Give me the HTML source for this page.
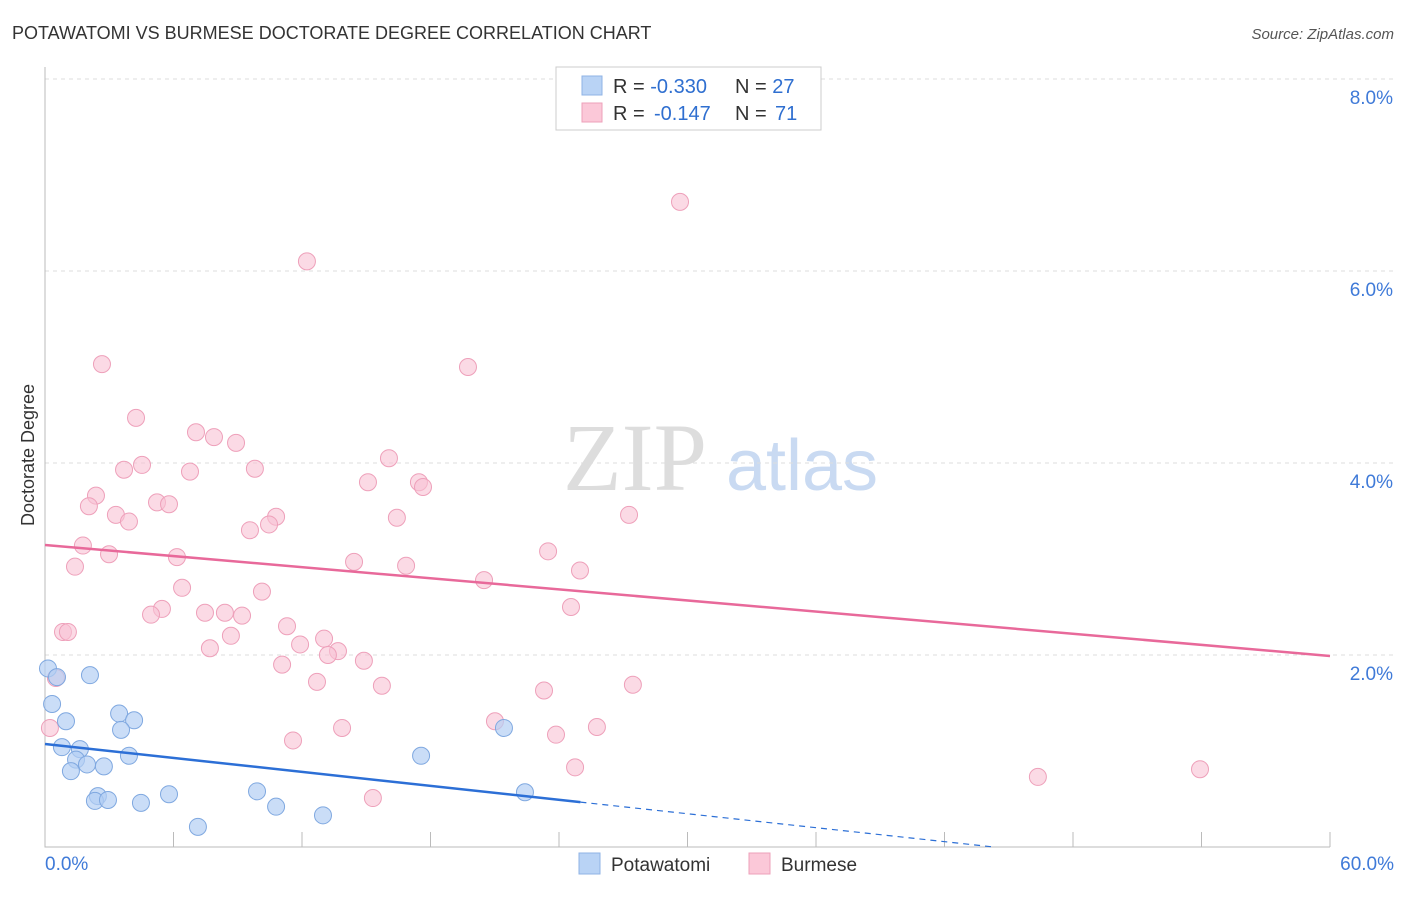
<!DOCTYPE html>
<html><head><meta charset="utf-8"><style>
body{margin:0;background:#fff;font-family:"Liberation Sans",sans-serif}
</style></head><body>
<svg id="chart" width="1406" height="892" xmlns="http://www.w3.org/2000/svg" font-family="Liberation Sans, sans-serif">
<text x="12" y="39" font-size="18" fill="#333">POTAWATOMI VS BURMESE DOCTORATE DEGREE CORRELATION CHART</text>
<text x="1394" y="39" font-size="15" fill="#555" font-style="italic" text-anchor="end">Source: ZipAtlas.com</text>
<g>
<text x="635" y="490" font-size="96" font-family="Liberation Serif, serif" fill="#ddd" text-anchor="middle">ZIP</text>
<text x="802" y="490" font-size="72" fill="#c9daf2" text-anchor="middle">atlas</text>
</g>
<g id="grid"></g><g id="axes"></g><g id="marks"></g>
<text transform="translate(34,455) rotate(-90)" font-size="18" fill="#333" text-anchor="middle">Doctorate Degree</text>
<g>
<rect x="556" y="67" width="265" height="63" fill="#fff" stroke="#ccc"/>
<rect x="582" y="76" width="20" height="19" fill="#b9d3f5" stroke="#8fb3e5"/>
<rect x="582" y="103" width="20" height="19" fill="#fbc8d8" stroke="#eea0ba"/>
<text x="613" y="93" font-size="20" fill="#333">R = <tspan fill="#2f6fd0">-0.330</tspan><tspan x="735">N = </tspan><tspan fill="#2f6fd0">27</tspan></text>
<text x="613" y="120" font-size="20" fill="#333">R = <tspan fill="#2f6fd0" x="654">-0.147</tspan><tspan x="735">N = </tspan><tspan fill="#2f6fd0" x="775">71</tspan></text>
</g>
<g>
<rect x="579" y="853" width="21" height="21" fill="#b9d3f5" stroke="#8fb3e5"/>
<text x="611" y="871" font-size="19" fill="#333">Potawatomi</text>
<rect x="749" y="853" width="21" height="21" fill="#fbc8d8" stroke="#eea0ba"/>
<text x="781" y="871" font-size="19" fill="#333">Burmese</text>
</g>
</svg>
<script>
const potX=[0.14,0.56,2.10,0.33,0.98,3.46,4.16,3.55,0.79,1.63,3.92,1.45,1.96,2.75,1.21,17.56,21.43,2.47,2.33,2.94,4.48,5.79,9.90,10.79,22.41,12.98,7.14];
const potY=[1.86,1.77,1.79,1.49,1.31,1.39,1.32,1.22,1.04,1.02,0.95,0.91,0.86,0.84,0.79,0.95,1.24,0.53,0.48,0.49,0.46,0.55,0.58,0.42,0.57,0.33,0.21];
const burX=[29.65,12.23,2.66,19.75,4.25,7.05,7.89,8.92,4.53,3.69,6.77,9.80,16.06,15.08,17.46,17.65,2.38,2.05,5.23,5.79,3.31,3.92,10.79,10.46,9.57,16.43,27.27,1.77,2.99,6.16,23.49,14.43,16.86,1.40,24.98,20.50,6.40,10.13,5.46,4.95,7.47,8.40,9.20,24.56,0.84,1.07,11.30,8.68,13.03,11.91,7.70,13.68,13.21,14.89,11.07,0.51,12.70,15.73,23.30,27.45,21.01,13.87,25.77,23.86,11.58,24.75,46.36,53.93,15.31,0.23,31.61];
const burY=[6.72,6.10,5.03,5.00,4.47,4.32,4.27,4.21,3.98,3.93,3.91,3.94,4.05,3.80,3.80,3.75,3.66,3.55,3.59,3.57,3.46,3.39,3.44,3.36,3.30,3.43,3.46,3.14,3.05,3.02,3.08,2.97,2.93,2.92,2.88,2.78,2.70,2.66,2.48,2.42,2.44,2.44,2.41,2.50,2.24,2.24,2.30,2.20,2.17,2.11,2.07,2.04,2.00,1.94,1.90,1.76,1.72,1.68,1.63,1.69,1.31,1.24,1.25,1.17,1.11,0.83,0.73,0.81,0.51,1.24,7.66];
const yTicks=[2,4,6,8];
const xTickVals=[0,6,12,18,24,30,36,42,48,54,60];
const potTrend=[1.073,-0.38];
const burTrend=[3.146,1.99];
const X=v=>45+v/60*1285, Y=v=>847-v*96;
const NS="http://www.w3.org/2000/svg";
function mk(p,t,a){const e=document.createElementNS(NS,t);for(const k in a)e.setAttribute(k,a[k]);document.getElementById(p).appendChild(e);return e;}
yTicks.forEach(v=>{
 const l=mk('grid','line',{x1:45,x2:1394,y1:Y(v),y2:Y(v),stroke:'#ddd','stroke-dasharray':'4,4'});
 
 
 const t=mk('grid','text',{x:1393,y:Y(v)+25,'font-size':19,fill:'#3f7ad8','text-anchor':'end'});t.textContent=v.toFixed(1)+'%';
 
 
});
const ax=mk('axes','path',{d:'M45,67V847H1330',stroke:'#bbb',fill:'none'});


xTickVals.forEach(v=>{
 const l=mk('axes','line',{x1:X(v),x2:X(v),y1:832,y2:847,stroke:'#bbb'});
 
 
});
[[0,'start'],[60,'end']].forEach(([v,a])=>{
 const t=mk('axes','text',{x:v?1394:45,y:870,'font-size':19,fill:'#3f7ad8','text-anchor':a});t.textContent=v.toFixed(1)+'%';
 
 
});
burX.forEach((x,i)=>{
 const c=mk('marks','circle',{cx:X(x),cy:Y(burY[i]),r:8.5,fill:'#f9c2d4','fill-opacity':0.6,stroke:'#eea0ba'});
 
 
});
potX.forEach((x,i)=>{
 const c=mk('marks','circle',{cx:X(x),cy:Y(potY[i]),r:8.5,fill:'#b4cff3','fill-opacity':0.7,stroke:'#7fa8e0'});
 
 
});
const bl=mk('marks','line',{x1:X(0),y1:Y(burTrend[0]),x2:X(60),y2:Y(burTrend[1]),stroke:'#e8699a','stroke-width':2.5});


const ps=(potTrend[1]-potTrend[0])/60, xEnd=25, xZero=-potTrend[0]/ps;
const pl=mk('marks','line',{x1:X(0),y1:Y(potTrend[0]),x2:X(xEnd),y2:Y(potTrend[0]+ps*xEnd),stroke:'#2c6fd6','stroke-width':2.5});


const pd=mk('marks','line',{x1:X(xEnd),y1:Y(potTrend[0]+ps*xEnd),x2:X(xZero),y2:Y(0),stroke:'#2c6fd6','stroke-width':1.2,'stroke-dasharray':'6,5'});


</script>
</body></html>
